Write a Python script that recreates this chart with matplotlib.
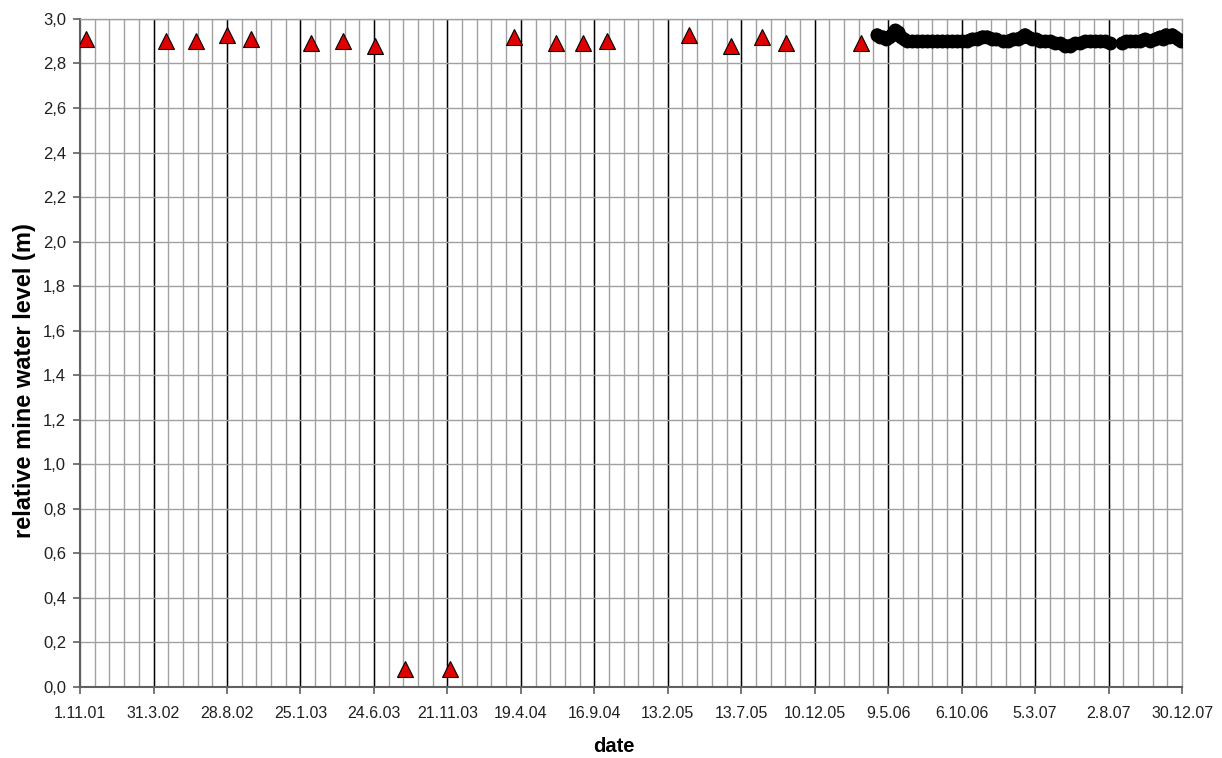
import numpy as np
import matplotlib
matplotlib.use("Agg")
import matplotlib.pyplot as plt
from matplotlib.ticker import FuncFormatter, FixedLocator

plt.rcParams["font.family"] = ["Liberation Sans", "DejaVu Sans"]

START = np.datetime64("2001-11-01")

# manual readings (days after 1.11.01, level in m)
manual_days = [12, 176, 237, 300, 349, 472, 537, 602, 664, 755,
               886, 972, 1027, 1076, 1243, 1329, 1392, 1441, 1595]
manual_level = [2.91, 2.90, 2.90, 2.93, 2.91, 2.89, 2.90, 2.88, 0.08, 0.08,
                2.92, 2.89, 2.89, 2.90, 2.93, 2.88, 2.92, 2.89, 2.89]

# logger readings, NaN marks a gap in the record
logger_days = [1627, 1633, 1639, 1646, 1652, 1658, 1664, 1670, 1676, 1682,
               1688, 1699, 1709, 1719, 1729, 1739, 1750, 1760, 1770, 1780,
               1791, 1801, 1811, 1821, 1831, 1842, 1852, 1862, 1870, 1877,
               1884, 1895, 1905, 1915, 1923, 1929, 1936, 1944, 1952, 1960,
               1970, 1980, 1991, 2001, 2011, 2021, 2031, 2042, 2052, 2062,
               2072, 2083, 2093, 2103, 2115,
               2127, 2136, 2144, 2154, 2164, 2174, 2185, 2195, 2205, 2211,
               2217, 2223, 2230, 2236, 2242, 2248]
logger_level = [2.93, 2.92, 2.92, 2.91, 2.92, 2.93, 2.95, 2.94, 2.92, 2.91,
                2.90, 2.90, 2.90, 2.90, 2.90, 2.90, 2.90, 2.90, 2.90, 2.90,
                2.90, 2.90, 2.90, 2.91, 2.91, 2.92, 2.92, 2.91, 2.91, np.nan,
                2.90, 2.90, 2.91, 2.91, 2.92, 2.93, 2.92, 2.91, 2.91, 2.90,
                2.90, 2.90, 2.89, 2.89, 2.88, 2.88, 2.89, 2.89, 2.90, 2.90,
                2.90, 2.90, 2.90, 2.89, np.nan,
                2.89, 2.90, 2.90, 2.90, 2.90, 2.91, 2.90, 2.91, 2.92, 2.91,
                2.93, 2.92, 2.93, 2.92, 2.91, 2.90]

tick_labels = ["1.11.01", "31.3.02", "28.8.02", "25.1.03", "24.6.03",
               "21.11.03", "19.4.04", "16.9.04", "13.2.05", "13.7.05",
               "10.12.05", "9.5.06", "6.10.06", "5.3.07", "2.8.07", "30.12.07"]

manual_dates = START + np.array(manual_days).astype("timedelta64[D]")
logger_dates = START + np.array(logger_days).astype("timedelta64[D]")
major = START + (np.arange(len(tick_labels)) * 150).astype("timedelta64[D]")
minor = START + (np.arange(0, 2251, 30)).astype("timedelta64[D]")

fig = plt.figure(figsize=(12.22, 7.58), dpi=100)
ax = fig.add_axes([0.0655, 0.0937, 0.9018, 0.8813])

# grid
for d in minor:
    ax.axvline(d, color="#a0a0a0", lw=1.0, zorder=1)
for d in major[1:-1]:
    ax.axvline(d, color="black", lw=1.0, zorder=1)
for y in np.arange(0.2, 3.01, 0.2):
    ax.axhline(y, color="#a0a0a0", lw=1.0, zorder=1)

ax.plot(logger_dates, logger_level, color="black", lw=9, marker="o",
        markersize=9, solid_capstyle="round", zorder=3)
ax.plot(manual_dates, manual_level, linestyle="none", marker="^",
        markersize=11, markerfacecolor="#e00000", markeredgecolor="black",
        markeredgewidth=0.8, zorder=4)

ax.set_xlim(major[0], major[-1])
ax.set_ylim(0, 3.0)
ax.xaxis.set_major_locator(FixedLocator(matplotlib.dates.date2num(major)))
ax.set_xticklabels(tick_labels)
ax.set_yticks(np.arange(0, 3.01, 0.2))
ax.yaxis.set_major_formatter(FuncFormatter(lambda v, p: f"{v:.1f}".replace(".", ",")))

ax.tick_params(axis="both", direction="out", length=5, width=1.2,
               color="#606060", labelcolor="#202020")
ax.tick_params(axis="x", pad=9, labelsize=11.5)
ax.tick_params(axis="y", pad=5, labelsize=12)
for side in ["left", "bottom"]:
    ax.spines[side].set_color("#606060")
    ax.spines[side].set_linewidth(1.5)
for side in ["top", "right"]:
    ax.spines[side].set_color("#a0a0a0")
    ax.spines[side].set_linewidth(1.0)

fig.text(0.5025, 1 - 746 / 758, "date", fontsize=14.5, fontweight="bold",
         ha="center", va="center")
fig.text(25 / 1222, 1 - 381 / 758, "relative mine water level (m)",
         fontsize=17, fontweight="bold", rotation=90, ha="center", va="center")

fig.savefig("out.png", dpi=100)
